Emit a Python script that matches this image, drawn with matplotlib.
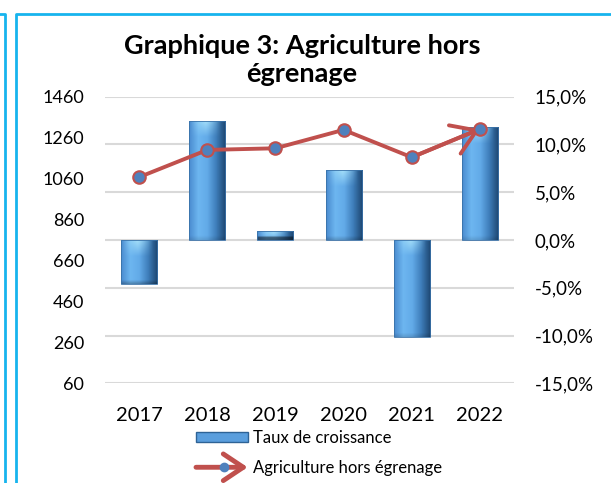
import numpy as np
import matplotlib.pyplot as plt
from matplotlib.colors import LinearSegmentedColormap, to_rgb
from matplotlib.legend_handler import HandlerBase
from matplotlib.patches import FancyArrowPatch, Rectangle
from matplotlib.lines import Line2D

# données
annees = ['2017', '2018', '2019', '2020', '2021', '2022']
agriculture = [1067, 1200, 1208, 1298, 1164, 1302]   # axe gauche
taux = [-4.6, 12.5, 0.9, 7.3, -10.2, 11.8]            # taux de croissance, %
ticks_gauche = [60, 260, 460, 660, 860, 1060, 1260, 1460]
ticks_droite = [-15, -10, -5, 0, 5, 10, 15]

ROUGE = '#C0504D'
BLEU = '#4F81BD'
CADRE = '#17B4EE'

plt.rcParams['font.family'] = ['Lato', 'DejaVu Sans']

W, H = 611, 483
fig = plt.figure(figsize=(W / 100, H / 100), dpi=100)

# axe des taux (barres)
ax = fig.add_axes([105 / W, 1 - 383.3 / H, 409 / W, 286.6 / H])
x = np.arange(len(annees))
ax.set_xlim(-0.5, len(annees) - 0.5)
ax.set_ylim(-15, 15)

cmap = LinearSegmentedColormap.from_list(
    'barre', ['#4A8BCF', '#6DB6F0', '#62AAE8', '#3D7CB8', '#1D4670'])
clair = np.array(to_rgb('#B0E8FC'))
px_par_pct = ax.bbox.height / 30
cols = np.linspace(0, 1, 64)
base = cmap(cols)[:, :3]
bosse = np.clip(1 - np.abs(cols - 0.45) / 0.42, 0, 1)

bars = ax.bar(x, taux, width=0.53, color='none', edgecolor='none', zorder=2)
for b in bars:
    x0, y0, w, h = b.get_x(), b.get_y(), b.get_width(), b.get_height()
    n = 100
    rows = np.linspace(0, 1, n)
    frac = min(1.0, 16 / (abs(h) * px_par_pct))
    poids = 0.85 * np.clip(1 - rows / frac, 0, 1)[:, None] * bosse[None, :]
    img = base[None, :, :] * (1 - poids[..., None]) + clair * poids[..., None]
    bas = np.clip((rows - 1 + 4 / (abs(h) * px_par_pct)) * 3, 0, 0.5)
    img = img * (1 - bas[:, None, None])
    im = ax.imshow(img, aspect='auto', interpolation='bilinear', origin='upper',
                   extent=(x0, x0 + w, min(y0, y0 + h), max(y0, y0 + h)), zorder=2)
    im.set_clip_path(b)
    ax.add_patch(Rectangle((x0, y0), w, h, fill=False, edgecolor='#3A72A8',
                           lw=0.6, zorder=2.5))

ax.set_xlim(-0.5, len(annees) - 0.5)
ax.set_ylim(-15, 15)
ax.set_xticks(x)
ax.set_xticklabels(annees, fontsize=14.5)
ax.tick_params(axis='x', length=0, pad=17)
ax.yaxis.grid(True, color='#D9D9D9', lw=1.5)
ax.set_axisbelow(True)
for s in ax.spines.values():
    s.set_visible(False)

# axe des valeurs (courbe)
ax2 = ax.twinx()
ax2.set_ylim(60, 1460)
ax2.set_yticks(ticks_gauche)
for s in ax2.spines.values():
    s.set_visible(False)

# twinx remet les graduations : taux a droite, valeurs a gauche
ax.set_yticks(ticks_droite)
ax.set_yticklabels([f"{t:.1f}%".replace('.', ',') for t in ticks_droite])
ax.yaxis.tick_right()
ax.tick_params(axis='y', length=0, pad=15, labelsize=13.5)
ax2.yaxis.tick_left()
ax2.tick_params(axis='y', length=0, pad=15, labelsize=13)

ax2.annotate('', xy=(x[-1], agriculture[-1]), xytext=(x[-2], agriculture[-2]),
             arrowprops=dict(arrowstyle='->,head_length=0.85,head_width=0.55',
                             color=ROUGE, lw=2.8, shrinkA=0, shrinkB=0,
                             mutation_scale=20), zorder=3)
ax2.plot(x, agriculture, color=ROUGE, lw=2.8, marker='o', ms=9,
         mfc=BLEU, mec=ROUGE, mew=1.5, zorder=4)

fig.text(302 / W, 1 - 60 / H, "Graphique 3: Agriculture hors\négrenage",
         ha='center', va='center', fontsize=19.5, fontweight='bold',
         linespacing=1.25)


class FlecheHandler(HandlerBase):
    def create_artists(self, legend, orig_handle, xdescent, ydescent,
                       width, height, fontsize, trans):
        y = height / 2 - ydescent
        fl = FancyArrowPatch((-xdescent, y), (width - xdescent, y),
                             arrowstyle='->,head_length=0.9,head_width=0.6',
                             color=ROUGE, lw=3.5, mutation_scale=16,
                             shrinkA=0, shrinkB=0, transform=trans)
        pt = Line2D([width * 0.55 - xdescent], [y], marker='o', ms=6,
                    mfc=BLEU, mec=BLEU, transform=trans)
        return [fl, pt]


h_barre = Rectangle((0, 0), 1, 1, facecolor='#5A9EDD', edgecolor='#2E6396')
h_ligne = Line2D([], [])
fig.legend([h_barre, h_ligne], ['Taux de croissance', 'Agriculture hors égrenage'],
           handler_map={Line2D: FlecheHandler()},
           loc='upper left', bbox_to_anchor=(196 / W, 1 - 430 / H),
           frameon=False, fontsize=12, handlelength=3.1, handleheight=0.55,
           labelspacing=0.85, handletextpad=0.3, borderpad=0, borderaxespad=0)

# cadre bleu
fig.add_artist(Line2D([0, 5 / W, 5 / W], [1 - 14 / H, 1 - 14 / H, 0],
                      color=CADRE, lw=2))
fig.add_artist(Line2D([16 / W, 16 / W, 1], [0, 1 - 14 / H, 1 - 14 / H],
                      color=CADRE, lw=2))

fig.savefig('out.png', dpi=100)
